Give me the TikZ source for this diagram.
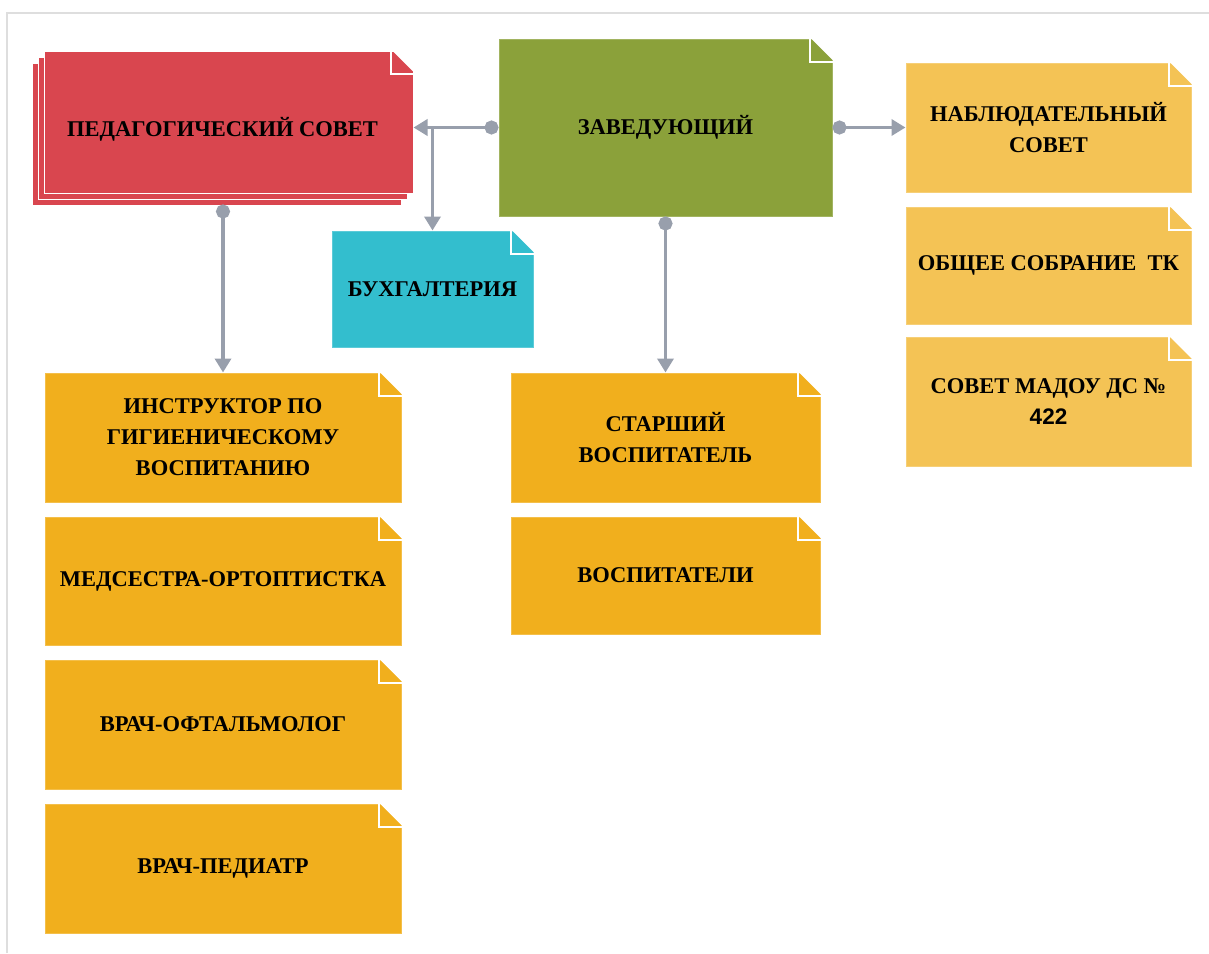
\documentclass[tikz,border=0pt]{standalone}
\usepackage{fontspec}
\setmainfont{Liberation Serif}
\newfontfamily\numfont{Liberation Sans}
\usetikzlibrary{arrows.meta,shadows,calc}

\definecolor{redbox}{HTML}{D9464F}
\definecolor{greenbox}{HTML}{8BA13A}
\definecolor{cyanbox}{HTML}{33BECE}
\definecolor{orangebox}{HTML}{F1AF1D}
\definecolor{lightbox}{HTML}{F4C355}
\definecolor{linkgray}{HTML}{989FAC}
\definecolor{framegray}{HTML}{DEDEDE}

\newcommand\foldcorner[1]{%
  \fill[white] ($(#1.north east)+(1.5,-1.5)$) -- ++(-24.5,0) -- ++(24.5,24.5) -- cycle;
  \draw[white,line width=2pt] ($(#1.north east)+(-23,0)$) -- ++(0,23) -- ++(23,0);
}

\begin{document}
\begin{tikzpicture}[x=1pt,y=-1pt,
    card/.style={rectangle,inner sep=0pt,align=center,text=black,
      font=\fontsize{22.5}{31}\selectfont\bfseries,line width=1pt},
    link/.style={draw=linkgray,line width=3.5pt,
      {Circle[length=14pt]}-{Triangle[length=14pt,width=16pt]}},
    branch/.style={draw=linkgray,line width=3.5pt,-{Triangle[length=14pt,width=16pt]}}]
  \useasboundingbox (0,0) rectangle (1209,953);
  \draw[framegray,line width=1.5pt] (7,953) -- (7,13) -- (1209,13);

  \node[card,fill=redbox,draw=white,minimum width=369pt,minimum height=142pt,
    double copy shadow={shadow xshift=-6pt,shadow yshift=-6pt}]
    (pedsovet) at (228.5,122) {\hspace*{-12pt}\rule{0pt}{34pt}ПЕДАГОГИЧЕСКИЙ СОВЕТ};
  \node[card,fill=greenbox,draw=greenbox!80!white,minimum width=333pt,minimum height=177pt]
    (zav) at (665.5,127.5) {ЗАВЕДУЮЩИЙ};
  \node[card,fill=cyanbox,draw=cyanbox!80!white,minimum width=201pt,minimum height=116pt]
    (buh) at (432.5,289) {БУХГАЛТЕРИЯ};

  \node[card,fill=lightbox,draw=lightbox!80!white,minimum width=285pt,minimum height=129pt]
    (nabl) at (1048.5,127.5) {НАБЛЮДАТЕЛЬНЫЙ\\СОВЕТ};
  \node[card,fill=lightbox,draw=lightbox!80!white,minimum width=285pt,minimum height=117pt]
    (obsh) at (1048.5,265.5) {ОБЩЕЕ СОБРАНИЕ~ ТК};
  \node[card,fill=lightbox,draw=lightbox!80!white,minimum width=285pt,minimum height=129pt]
    (madou) at (1048.5,402) {СОВЕТ МАДОУ ДС №\\{\numfont 422}};

  \node[card,fill=orangebox,draw=orangebox!80!white,minimum width=356pt,minimum height=129pt]
    (instr) at (223,437.5) {ИНСТРУКТОР ПО\\ГИГИЕНИЧЕСКОМУ\\ВОСПИТАНИЮ};
  \node[card,fill=orangebox,draw=orangebox!80!white,minimum width=356pt,minimum height=128pt]
    (medsestra) at (223,581) {МЕДСЕСТРА-ОРТОПТИСТКА};
  \node[card,fill=orangebox,draw=orangebox!80!white,minimum width=356pt,minimum height=129pt]
    (oftalm) at (223,724.5) {ВРАЧ-ОФТАЛЬМОЛОГ};
  \node[card,fill=orangebox,draw=orangebox!80!white,minimum width=356pt,minimum height=129pt]
    (pediatr) at (223,868.5) {ВРАЧ-ПЕДИАТР};

  \node[card,fill=orangebox,draw=orangebox!80!white,minimum width=309pt,minimum height=129pt]
    (starsh) at (665.5,437.5) {СТАРШИЙ\\ВОСПИТАТЕЛЬ};
  \node[card,fill=orangebox,draw=orangebox!80!white,minimum width=309pt,minimum height=117pt]
    (vospit) at (665.5,575.5) {ВОСПИТАТЕЛИ};

  \foreach \n in {pedsovet,zav,buh,nabl,obsh,madou,instr,medsestra,oftalm,pediatr,starsh,vospit}
    {\foldcorner{\n}}

  \draw[link] (zav.west) -- (zav.west -| pedsovet.east);
  \draw[branch] (buh.north |- zav.west) -- (buh.north);
  \draw[link] (zav.east) -- (zav.east -| nabl.west);
  \draw[link] (zav.south) -- (starsh.north);
  \draw[link] ($(pedsovet.south -| instr.north)+(0,11)$) -- (instr.north);
\end{tikzpicture}
\end{document}
